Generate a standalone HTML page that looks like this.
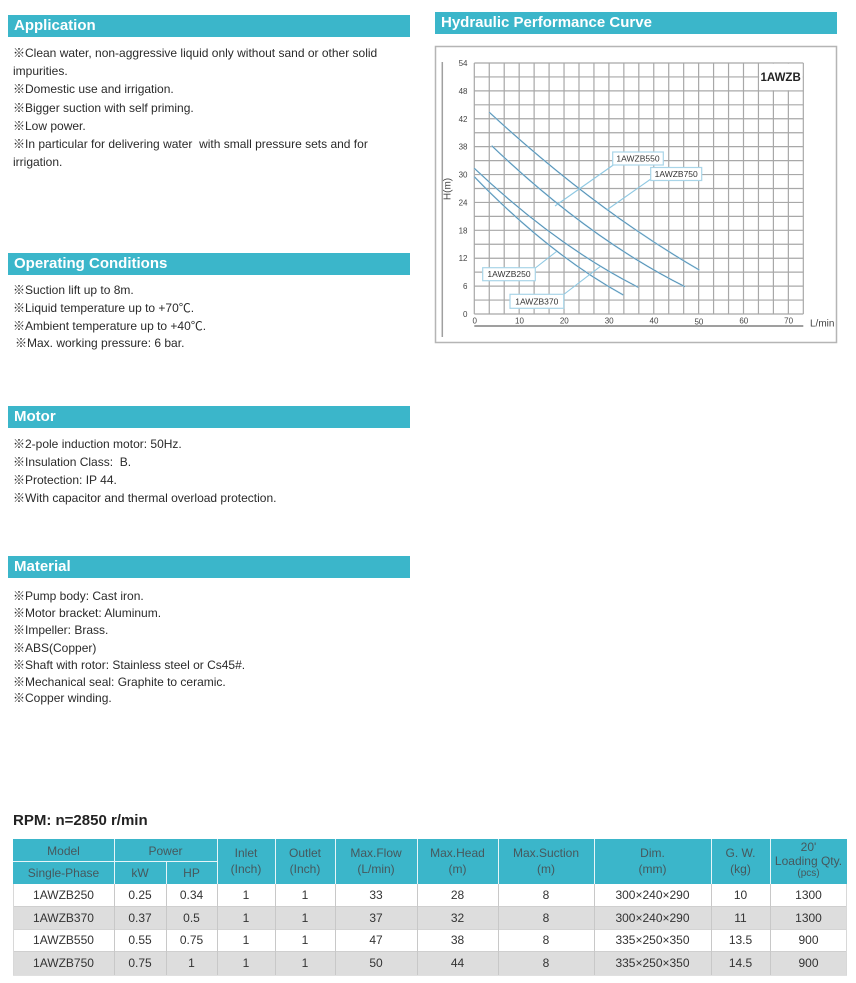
<!DOCTYPE html>
<html>
<head>
<meta charset="utf-8">
<style>
  html,body{margin:0;padding:0;background:#fff;}
  body{width:856px;height:983px;position:relative;overflow:hidden;font-family:"Liberation Sans","Noto Sans CJK JP",sans-serif;color:#2a2a2a;}
  .bar{position:absolute;background:#3bb6ca;color:#fff;font-weight:bold;font-size:15px;line-height:22px;padding-left:6px;box-sizing:border-box;white-space:nowrap;}
  .ln{position:absolute;left:13px;font-size:12px;line-height:20px;height:20px;white-space:nowrap;}
  .hd{position:absolute;background:#3bb6ca;}
  .c{position:absolute;text-align:center;font-size:12px;white-space:nowrap;color:#333;}
  .h{position:absolute;text-align:center;font-size:12px;white-space:nowrap;color:#46585d;height:16px;line-height:16px;}
  .vl{position:absolute;width:1px;}
  .hl{position:absolute;height:1px;}
</style>
</head>
<body>

<!-- Section bars -->
<div class="bar" style="left:8px;top:15px;width:402px;height:22px;">Application</div>
<div class="bar" style="left:8px;top:253px;width:402px;height:22px;">Operating Conditions</div>
<div class="bar" style="left:8px;top:406px;width:402px;height:22px;">Motor</div>
<div class="bar" style="left:8px;top:556px;width:402px;height:22px;">Material</div>
<div class="bar" style="left:435px;top:12px;width:402px;height:22px;">Hydraulic Performance Curve</div>

<!-- Application -->
<div class="ln" style="top:43px;">※Clean water, non-aggressive liquid only without sand or other solid</div>
<div class="ln" style="top:61px;">impurities.</div>
<div class="ln" style="top:79px;">※Domestic use and irrigation.</div>
<div class="ln" style="top:97.5px;">※Bigger suction with self priming.</div>
<div class="ln" style="top:115.8px;">※Low power.</div>
<div class="ln" style="top:133.5px;">※In particular for delivering water&nbsp; with small pressure sets and for</div>
<div class="ln" style="top:152px;">irrigation.</div>

<!-- Operating -->
<div class="ln" style="top:280px;">※Suction lift up to 8m.</div>
<div class="ln" style="top:298.3px;">※Liquid temperature up to +70℃.</div>
<div class="ln" style="top:316px;">※Ambient temperature up to +40℃.</div>
<div class="ln" style="top:333.3px;left:15px;">※Max. working pressure: 6 bar.</div>

<!-- Motor -->
<div class="ln" style="top:434px;">※2-pole induction motor: 50Hz.</div>
<div class="ln" style="top:452.3px;">※Insulation Class:&nbsp; B.</div>
<div class="ln" style="top:470px;">※Protection: IP 44.</div>
<div class="ln" style="top:488.3px;">※With capacitor and thermal overload protection.</div>

<!-- Material -->
<div class="ln" style="top:585.7px;">※Pump body: Cast iron.</div>
<div class="ln" style="top:603.3px;">※Motor bracket: Aluminum.</div>
<div class="ln" style="top:620.3px;">※Impeller: Brass.</div>
<div class="ln" style="top:637.7px;">※ABS(Copper)</div>
<div class="ln" style="top:655px;">※Shaft with rotor: Stainless steel or Cs45#.</div>
<div class="ln" style="top:672px;">※Mechanical seal: Graphite to ceramic.</div>
<div class="ln" style="top:688.3px;">※Copper winding.</div>

<!-- Chart -->
<svg style="position:absolute;left:0;top:0;" width="856" height="350" viewBox="0 0 856 350" xmlns="http://www.w3.org/2000/svg" font-family="Liberation Sans, Arial, sans-serif">
  <rect x="435.5" y="46.5" width="401" height="296" fill="none" stroke="#b5b5b5" stroke-width="1.5"/>
  <line x1="442.3" y1="62" x2="442.3" y2="337" stroke="#a0a0a0" stroke-width="1.5"/>
  <g stroke="#a8a8a8" stroke-width="1.2" fill="none">
    <path d="M474.3 63V314M489.26 63V314M504.21 63V314M519.17 63V314M534.12 63V314M549.08 63V314M564.03 63V314M578.99 63V314M593.94 63V314M608.9 63V314M623.85 63V314M638.81 63V314M653.76 63V314M668.72 63V314M683.67 63V314M698.63 63V314M713.58 63V314M728.54 63V314M743.49 63V314M758.45 63V314M773.4 63V314M788.36 63V314M803.31 63V314"/>
    <path d="M474.3 63H803.3M474.3 76.94H803.3M474.3 90.89H803.3M474.3 104.83H803.3M474.3 118.78H803.3M474.3 132.72H803.3M474.3 146.66H803.3M474.3 160.61H803.3M474.3 174.55H803.3M474.3 188.5H803.3M474.3 202.44H803.3M474.3 216.38H803.3M474.3 230.33H803.3M474.3 244.27H803.3M474.3 258.22H803.3M474.3 272.16H803.3M474.3 286.1H803.3M474.3 300.05H803.3M474.3 314H803.3"/>
  </g>
  <rect x="759.2" y="63.7" width="43.4" height="26.5" fill="#fff"/>
  <text x="760.5" y="81" font-size="11.5" font-weight="bold" fill="#222">1AWZB</text>

  <g font-size="8" fill="#444" text-anchor="end">
    <text x="467.5" y="66">54</text>
    <text x="467.5" y="93.9">48</text>
    <text x="467.5" y="121.8">42</text>
    <text x="467.5" y="149.7">38</text>
    <text x="467.5" y="177.6">30</text>
    <text x="467.5" y="205.4">24</text>
    <text x="467.5" y="233.3">18</text>
    <text x="467.5" y="261.2">12</text>
    <text x="467.5" y="289.1">6</text>
    <text x="467.5" y="317">0</text>
  </g>
  <g font-size="8" fill="#444" text-anchor="middle">
    <text x="474.7" y="323.6">0</text>
    <text x="519.5" y="323.6">10</text>
    <text x="564.3" y="323.6">20</text>
    <text x="609.2" y="323.6">30</text>
    <text x="654" y="323.6">40</text>
    <text x="698.9" y="324.3">50</text>
    <text x="743.8" y="323.6">60</text>
    <text x="788.6" y="323.6">70</text>
  </g>
  <line x1="474.3" y1="326" x2="803.3" y2="326" stroke="#666" stroke-width="1.2"/>
  <text x="810" y="326.3" font-size="10" fill="#444">L/min</text>
  <text transform="translate(450.5,189) rotate(-90)" font-size="10" fill="#444" text-anchor="middle">H(m)</text>

  <!-- curves -->
  <g fill="none" stroke="#a6d2e8" stroke-width="1.6">
    <path d="M489.3 112.3Q594.3 209.2 699.3 270"/>
    <path d="M491.7 145.7Q588.3 238.2 685 286.7"/>
    <path d="M474.3 168.3Q556.3 245.8 638.3 287.3"/>
    <path d="M474.3 176.7Q548.8 253.9 623.3 295"/>
  </g>
  <g fill="none" stroke="#4d86ab" stroke-width="0.7">
    <path d="M489.3 112.3Q594.3 209.2 699.3 270"/>
    <path d="M491.7 145.7Q588.3 238.2 685 286.7"/>
    <path d="M474.3 168.3Q556.3 245.8 638.3 287.3"/>
    <path d="M474.3 176.7Q548.8 253.9 623.3 295"/>
  </g>
  <!-- leaders -->
  <g stroke="#8ec8e2" stroke-width="1.1" fill="none">
    <line x1="613.3" y1="165" x2="555" y2="206"/>
    <line x1="653" y1="177.5" x2="606.7" y2="210"/>
    <line x1="535.3" y1="268" x2="556.5" y2="251.5"/>
    <line x1="563.7" y1="294.5" x2="600" y2="266.7"/>
  </g>
  <g fill="#fff" stroke="#a9d5e8" stroke-width="1.2">
    <rect x="612.7" y="152" width="50.6" height="13"/>
    <rect x="650.7" y="167.5" width="51" height="13"/>
    <rect x="482.7" y="267.7" width="52.6" height="13"/>
    <rect x="510" y="294.3" width="53.7" height="14"/>
  </g>
  <g font-size="8.5" fill="#333" text-anchor="middle">
    <text x="638" y="161.5">1AWZB550</text>
    <text x="676.2" y="177">1AWZB750</text>
    <text x="509" y="277.2">1AWZB250</text>
    <text x="536.8" y="304.5">1AWZB370</text>
  </g>
</svg>

<!-- RPM -->
<div style="position:absolute;left:13px;top:813px;font-size:15px;line-height:15px;font-weight:bold;color:#222;white-space:nowrap;">RPM: n=2850 r/min</div>

<!-- Table header -->
<div class="hd" style="left:13px;top:839px;width:834px;height:45px;"></div>
<div class="vl" style="left:114px;top:839px;height:45px;background:#e6f5f8;"></div>
<div class="vl" style="left:217px;top:839px;height:45px;background:#e6f5f8;"></div>
<div class="vl" style="left:275px;top:839px;height:45px;background:#e6f5f8;"></div>
<div class="vl" style="left:335px;top:839px;height:45px;background:#e6f5f8;"></div>
<div class="vl" style="left:417px;top:839px;height:45px;background:#e6f5f8;"></div>
<div class="vl" style="left:498px;top:839px;height:45px;background:#e6f5f8;"></div>
<div class="vl" style="left:594px;top:839px;height:45px;background:#e6f5f8;"></div>
<div class="vl" style="left:711px;top:839px;height:45px;background:#e6f5f8;"></div>
<div class="vl" style="left:770px;top:839px;height:45px;background:#e6f5f8;"></div>
<div class="vl" style="left:166px;top:862px;height:22px;background:#e6f5f8;"></div>
<div class="hl" style="left:13px;top:861px;width:204px;background:#e6f5f8;"></div>

<div class="h" style="left:13px;top:842.5px;width:101px;">Model</div>
<div class="h" style="left:13px;top:865px;width:101px;">Single-Phase</div>
<div class="h" style="left:114px;top:842.5px;width:103px;">Power</div>
<div class="h" style="left:114px;top:865px;width:52px;">kW</div>
<div class="h" style="left:166px;top:865px;width:51px;">HP</div>
<div class="h" style="left:217px;top:845.3px;width:58px;">Inlet</div>
<div class="h" style="left:217px;top:861px;width:58px;">(Inch)</div>
<div class="h" style="left:275px;top:845.3px;width:60px;">Outlet</div>
<div class="h" style="left:275px;top:861px;width:60px;">(Inch)</div>
<div class="h" style="left:335px;top:845.3px;width:82px;">Max.Flow</div>
<div class="h" style="left:335px;top:861px;width:82px;">(L/min)</div>
<div class="h" style="left:417px;top:845.3px;width:81px;">Max.Head</div>
<div class="h" style="left:417px;top:861px;width:81px;">(m)</div>
<div class="h" style="left:498px;top:845.3px;width:96px;">Max.Suction</div>
<div class="h" style="left:498px;top:861px;width:96px;">(m)</div>
<div class="h" style="left:594px;top:845.3px;width:117px;">Dim.</div>
<div class="h" style="left:594px;top:861px;width:117px;">(mm)</div>
<div class="h" style="left:711px;top:845.3px;width:59px;">G. W.</div>
<div class="h" style="left:711px;top:861px;width:59px;">(kg)</div>
<div class="h" style="left:770px;top:839.3px;width:77px;">20'</div>
<div class="h" style="left:770px;top:853px;width:77px;">Loading Qty.</div>
<div class="h" style="left:770px;top:866px;width:77px;font-size:10px;">(pcs)</div>

<!-- body rows -->
<div style="position:absolute;left:13px;top:884px;width:834px;height:23px;background:#fff;"></div>
<div style="position:absolute;left:13px;top:907px;width:834px;height:22px;background:#dddddd;"></div>
<div style="position:absolute;left:13px;top:929px;width:834px;height:23px;background:#fff;"></div>
<div style="position:absolute;left:13px;top:952px;width:834px;height:23px;background:#dddddd;"></div>
<div class="hl" style="left:13px;top:906px;width:834px;background:#cfcfcf;"></div>
<div class="hl" style="left:13px;top:929px;width:834px;background:#d4d4d4;"></div>
<div class="hl" style="left:13px;top:951px;width:834px;background:#cfcfcf;"></div>
<div class="hl" style="left:13px;top:975px;width:834px;background:#e0e0e0;"></div>
<div class="vl" style="left:13px;top:884px;height:91px;background:#d8d8d8;"></div>
<div class="vl" style="left:114px;top:884px;height:91px;background:#c8c8c8;"></div>
<div class="vl" style="left:166px;top:884px;height:91px;background:#c8c8c8;"></div>
<div class="vl" style="left:217px;top:884px;height:91px;background:#c8c8c8;"></div>
<div class="vl" style="left:275px;top:884px;height:91px;background:#c8c8c8;"></div>
<div class="vl" style="left:335px;top:884px;height:91px;background:#c8c8c8;"></div>
<div class="vl" style="left:417px;top:884px;height:91px;background:#c8c8c8;"></div>
<div class="vl" style="left:498px;top:884px;height:91px;background:#c8c8c8;"></div>
<div class="vl" style="left:594px;top:884px;height:91px;background:#c8c8c8;"></div>
<div class="vl" style="left:711px;top:884px;height:91px;background:#c8c8c8;"></div>
<div class="vl" style="left:770px;top:884px;height:91px;background:#c8c8c8;"></div>
<div class="vl" style="left:846px;top:884px;height:91px;background:#d8d8d8;"></div>

<!-- row 1 -->
<div class="c" style="left:13px;top:884px;width:101px;height:23px;line-height:23px;">1AWZB250</div>
<div class="c" style="left:114px;top:884px;width:52px;height:23px;line-height:23px;">0.25</div>
<div class="c" style="left:166px;top:884px;width:51px;height:23px;line-height:23px;">0.34</div>
<div class="c" style="left:217px;top:884px;width:58px;height:23px;line-height:23px;">1</div>
<div class="c" style="left:275px;top:884px;width:60px;height:23px;line-height:23px;">1</div>
<div class="c" style="left:335px;top:884px;width:82px;height:23px;line-height:23px;">33</div>
<div class="c" style="left:417px;top:884px;width:81px;height:23px;line-height:23px;">28</div>
<div class="c" style="left:498px;top:884px;width:96px;height:23px;line-height:23px;">8</div>
<div class="c" style="left:594px;top:884px;width:117px;height:23px;line-height:23px;">300×240×290</div>
<div class="c" style="left:711px;top:884px;width:59px;height:23px;line-height:23px;">10</div>
<div class="c" style="left:770px;top:884px;width:77px;height:23px;line-height:23px;">1300</div>
<!-- row 2 -->
<div class="c" style="left:13px;top:907px;width:101px;height:22px;line-height:22px;">1AWZB370</div>
<div class="c" style="left:114px;top:907px;width:52px;height:22px;line-height:22px;">0.37</div>
<div class="c" style="left:166px;top:907px;width:51px;height:22px;line-height:22px;">0.5</div>
<div class="c" style="left:217px;top:907px;width:58px;height:22px;line-height:22px;">1</div>
<div class="c" style="left:275px;top:907px;width:60px;height:22px;line-height:22px;">1</div>
<div class="c" style="left:335px;top:907px;width:82px;height:22px;line-height:22px;">37</div>
<div class="c" style="left:417px;top:907px;width:81px;height:22px;line-height:22px;">32</div>
<div class="c" style="left:498px;top:907px;width:96px;height:22px;line-height:22px;">8</div>
<div class="c" style="left:594px;top:907px;width:117px;height:22px;line-height:22px;">300×240×290</div>
<div class="c" style="left:711px;top:907px;width:59px;height:22px;line-height:22px;">11</div>
<div class="c" style="left:770px;top:907px;width:77px;height:22px;line-height:22px;">1300</div>
<!-- row 3 -->
<div class="c" style="left:13px;top:929px;width:101px;height:23px;line-height:23px;">1AWZB550</div>
<div class="c" style="left:114px;top:929px;width:52px;height:23px;line-height:23px;">0.55</div>
<div class="c" style="left:166px;top:929px;width:51px;height:23px;line-height:23px;">0.75</div>
<div class="c" style="left:217px;top:929px;width:58px;height:23px;line-height:23px;">1</div>
<div class="c" style="left:275px;top:929px;width:60px;height:23px;line-height:23px;">1</div>
<div class="c" style="left:335px;top:929px;width:82px;height:23px;line-height:23px;">47</div>
<div class="c" style="left:417px;top:929px;width:81px;height:23px;line-height:23px;">38</div>
<div class="c" style="left:498px;top:929px;width:96px;height:23px;line-height:23px;">8</div>
<div class="c" style="left:594px;top:929px;width:117px;height:23px;line-height:23px;">335×250×350</div>
<div class="c" style="left:711px;top:929px;width:59px;height:23px;line-height:23px;">13.5</div>
<div class="c" style="left:770px;top:929px;width:77px;height:23px;line-height:23px;">900</div>
<!-- row 4 -->
<div class="c" style="left:13px;top:952px;width:101px;height:23px;line-height:23px;">1AWZB750</div>
<div class="c" style="left:114px;top:952px;width:52px;height:23px;line-height:23px;">0.75</div>
<div class="c" style="left:166px;top:952px;width:51px;height:23px;line-height:23px;">1</div>
<div class="c" style="left:217px;top:952px;width:58px;height:23px;line-height:23px;">1</div>
<div class="c" style="left:275px;top:952px;width:60px;height:23px;line-height:23px;">1</div>
<div class="c" style="left:335px;top:952px;width:82px;height:23px;line-height:23px;">50</div>
<div class="c" style="left:417px;top:952px;width:81px;height:23px;line-height:23px;">44</div>
<div class="c" style="left:498px;top:952px;width:96px;height:23px;line-height:23px;">8</div>
<div class="c" style="left:594px;top:952px;width:117px;height:23px;line-height:23px;">335×250×350</div>
<div class="c" style="left:711px;top:952px;width:59px;height:23px;line-height:23px;">14.5</div>
<div class="c" style="left:770px;top:952px;width:77px;height:23px;line-height:23px;">900</div>

</body>
</html>
